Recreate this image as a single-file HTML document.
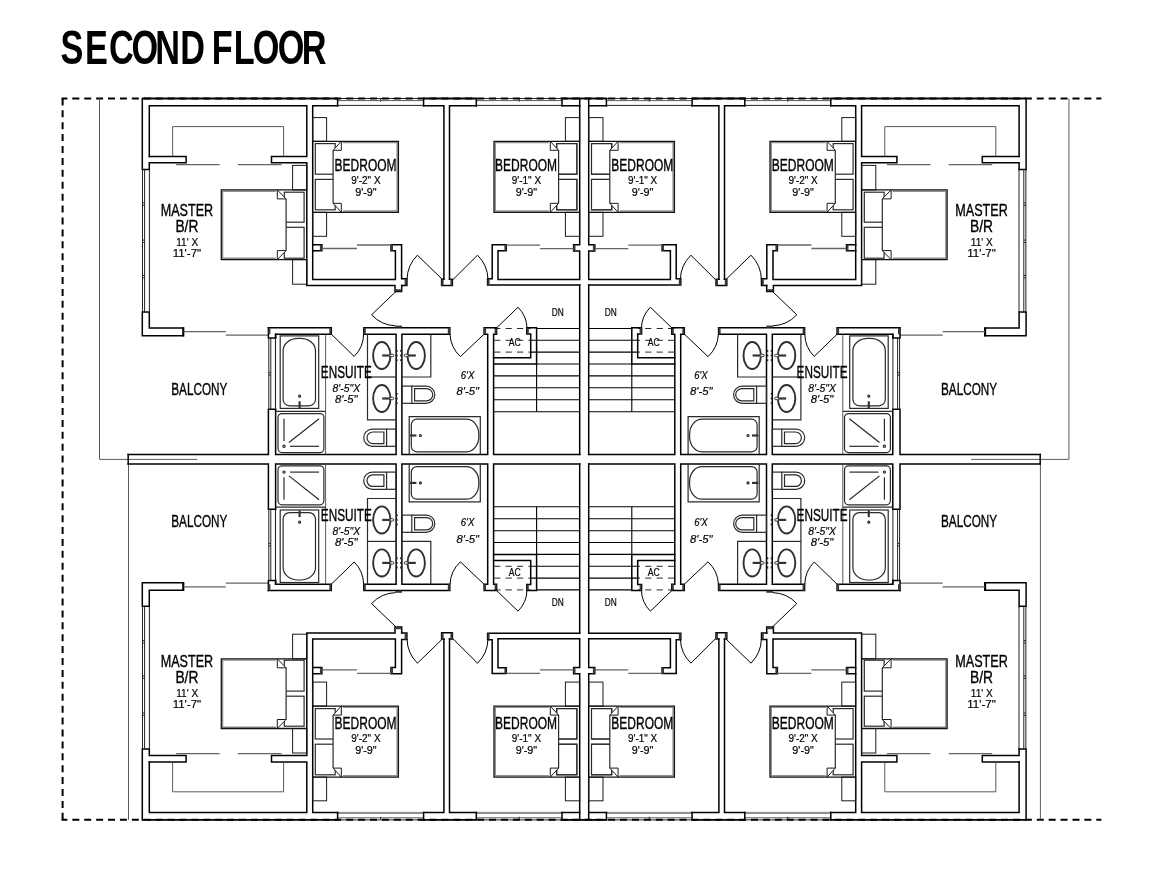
<!DOCTYPE html>
<html lang="en">
<head>
<meta charset="utf-8">
<title>Second Floor</title>
<style>
html,body{margin:0;padding:0;background:#fff;}
body{width:1159px;height:883px;overflow:hidden;}
svg{display:block;}
svg *{vector-effect:none;}
.w{fill:none;stroke:#000;stroke-width:1.5;stroke-linecap:square;stroke-linejoin:miter;}
.b{fill:none;stroke:#111;stroke-width:1.3;stroke-linejoin:miter;}
.bg{fill:none;stroke:#909090;stroke-width:1.4;stroke-linejoin:miter;}
.f{fill:none;stroke:#1a1a1a;stroke-width:1;}
.x{fill:none;stroke:#2a2a2a;stroke-width:1.2;}
.wo{fill:none;stroke:#000;stroke-width:1.9;}
.jb{fill:#888;stroke:#111;stroke-width:0.9;}
.jl{fill:none;stroke:#3a3a3a;stroke-width:2;}
.wh{fill:none;stroke:#fff;stroke-width:2.6;}
.cv{fill:#fff;stroke:none;}
.bw{fill:#fff;stroke:#222;stroke-width:1.6;stroke-linejoin:miter;}
.k{fill:none;stroke:#303030;stroke-width:1.9;}
.k2{fill:none;stroke:#333;stroke-width:2.2;}
.g{fill:none;stroke:#484848;stroke-width:0.9;}
.t{fill:none;stroke:#222;stroke-width:1;}
.s{fill:none;stroke:#666;stroke-width:1.3;}
.d{fill:none;stroke:#000;stroke-width:1;}
.pd{fill:none;stroke:#222;stroke-width:1.5;stroke-dasharray:1.9 2.75;}
.k1{fill:none;stroke:#333;stroke-width:0.95;}
.kf{fill:#fff;stroke:#222;stroke-width:0.9;}
.st{fill:none;stroke:#000;stroke-width:1.1;}
.da{fill:none;stroke:#111;stroke-width:0.9;stroke-dasharray:6.2 5.2;}
.dash{fill:none;stroke:#000;stroke-width:2;stroke-dasharray:7 4.907;}
text{font-family:"Liberation Sans",sans-serif;fill:#000;}
.ti{font-weight:bold;}
.lb{font-weight:normal;stroke:#000;stroke-width:0.35;}
.sm{font-weight:normal;stroke:#000;stroke-width:0.2;}
.si{font-style:italic;stroke:#000;stroke-width:0.2;}
</style>
</head>
<body>
<svg width="1159" height="883" viewBox="0 0 1159 883">
<rect x="0" y="0" width="1159" height="883" fill="#fff"/>
<defs>
<filter id="nf" x="0" y="0" width="1159" height="883" filterUnits="userSpaceOnUse" color-interpolation-filters="sRGB"><feOffset dx="0" dy="0"/></filter>
</defs>
<g>
<path class="wo" d="M142.3 98.5L337.6 98.5"/>
<path class="wo" d="M423.6 98.5L476.3 98.5"/>
<path class="wo" d="M562 98.5L584.2 98.5"/>
<path class="w" d="M142.3 98.5V169.4H149.3"/>
<path class="w" d="M149.3 156.4V105.8H306.8V156.4H271.5V162.8H306.8V285.4H395V291.4H401.7V285.4"/>
<path class="w" d="M149.3 156.4H186.1V162.8H149.3V328.1H183.6V335.7H142.3V312.1H149.3"/>
<path class="w" d="M183.0 328.1L183.0 335.7"/>
<path class="g" d="M172.6 156.4V126.6H283.6V156.4"/>
<path class="s" d="M176.2 164.7L219.7 164.7"/>
<path class="s" d="M237.9 164.7L281.5 164.7"/>
<path class="s" d="M183.6 331.6L225.8 331.6"/>
<path class="s" d="M225.8 335.2L268.4 335.2"/>
<rect class="f" x="292.6" y="165.4" width="14.2" height="24.5"/>
<rect class="f" x="292.6" y="259.6" width="14.2" height="24.6"/>
<rect class="x" x="284.3" y="192.2" width="19.8" height="30.0"/>
<rect class="x" x="284.3" y="227.3" width="19.8" height="30.9"/>
<path class="cv" d="M277.3 189.9H221.3V259.6H277.3L286.1 250.60000000000002V198.9Z"/>
<path class="bg" d="M275.8 191.20000000000002H222.6V258.3H275.8"/>
<path class="b" d="M306.8 189.9H221.3V259.6H306.8"/>
<path class="x" d="M286.1 198.9V250.60000000000002"/>
<path class="f" d="M277.3 189.9L286.1 198.9H277.3ZM277.3 259.6L286.1 250.60000000000002H277.3Z"/>
<path class="w" d="M443.9 279.3V105.8H312.7V244.7H321.9V250.8H312.7V279.5H395.4V250.8H391V244.7H401.6V278.8H406.9V285.4H401.7"/>
<path class="w" d="M312.7 244.7L312.7 250.8"/>
<path class="jl" d="M320.9 244.7L320.9 250.8"/>
<path class="jl" d="M392 244.7L392 250.8"/>
<path class="jl" d="M405.6 278.8L405.6 285.4"/>
<path class="jl" d="M395 290.2L401.7 290.2"/>
<path class="s" d="M322 248.5L357 248.5"/>
<path class="s" d="M357 245L391 245"/>
<rect class="f" x="312.7" y="117.6" width="13.9" height="23.7"/>
<rect class="f" x="312.7" y="212.3" width="13.9" height="24.0"/>
<rect class="x" x="315.3" y="143.6" width="19.9" height="30.6"/>
<rect class="x" x="315.3" y="179.4" width="19.9" height="30.4"/>
<path class="cv" d="M341.3 141.3H398.4V212.3H341.3L333.1 203.3V150.3Z"/>
<path class="bg" d="M342.8 142.60000000000002H397.1V211.0H342.8"/>
<path class="b" d="M312.7 141.3H398.4V212.3H312.7"/>
<path class="x" d="M333.1 150.3V203.3"/>
<path class="f" d="M341.3 141.3L333.1 150.3H341.3ZM341.3 212.3L333.1 203.3H341.3Z"/>
<path class="d" d="M442.6 279.6L417.4 255.2A35.6 35.6 0 0 0 407 279.3"/>
<path class="d" d="M396 291.4L371.6 314.8A34.4 34.4 0 0 0 395.6 325.8"/>
<path class="w" d="M443.9 279.3H441.6V285.6H452.4V279.3H449.5"/>
<path class="jl" d="M442.6 279.3L442.6 285.6"/>
<path class="jl" d="M451.4 279.3L451.4 285.6"/>
<path class="w" d="M449.5 279.3V105.8H579.7V244.7H573.6V250.9H579.7V279.6H498V250.7H506.3V244.8H492.2V278.7H487.6V285.1H579.7"/>
<path class="jl" d="M505.4 244.8L505.4 250.7"/>
<path class="jl" d="M574.5 244.7L574.5 250.9"/>
<path class="jl" d="M488.6 278.7L488.6 285.1"/>
<path class="s" d="M506.3 245.1L540.1 245.1"/>
<path class="s" d="M540.1 248.6L573.6 248.6"/>
<rect class="f" x="556.7" y="143.6" width="20.2" height="30.6"/>
<rect class="f" x="556.7" y="179.4" width="20.2" height="30.4"/>
<rect class="f" x="565.4" y="117.6" width="14.3" height="23.7"/>
<rect class="f" x="565.4" y="212.3" width="14.3" height="24.0"/>
<rect class="x" x="556.7" y="143.6" width="20.2" height="30.6"/>
<rect class="x" x="556.7" y="179.4" width="20.2" height="30.4"/>
<path class="cv" d="M550.3 141.3H494V212.3H550.3L558.6 203.3V150.3Z"/>
<path class="bg" d="M548.8 142.60000000000002H495.3V211.0H548.8"/>
<path class="b" d="M579.7 141.3H494V212.3H579.7"/>
<path class="x" d="M558.6 150.3V203.3"/>
<path class="f" d="M550.3 141.3L558.6 150.3H550.3ZM550.3 212.3L558.6 203.3H550.3Z"/>
<path class="d" d="M453 279.6L477.5 255.2A34.8 34.8 0 0 1 488 279.3"/>
<path class="w" d="M579.7 98.5L579.7 105.8"/>
<path class="w" d="M579.7 285.1L579.7 454.4"/>
<path class="w" d="M268.4 327.8H331.3V334.2H275.6V454.4H396.1V334.2H363.8V327.8H449.8V334.2H401.9V454.4H487.7V334.2H484.1V327.8H496.6V334.2H493.6V454.4H579.7"/>
<path class="w" d="M268.4 327.8V337.9H275.6V334.2M275.6 409.2H268.4V454.4H128.2"/>
<path class="jl" d="M269.4 327.8L269.4 334.2"/>
<path class="jl" d="M330.3 327.8L330.3 334.2"/>
<path class="jl" d="M364.8 327.8L364.8 334.2"/>
<path class="jl" d="M448.8 327.8L448.8 334.2"/>
<path class="jl" d="M485.1 327.8L485.1 334.2"/>
<path class="jl" d="M495.6 327.8L495.6 334.2"/>
<path class="jl" d="M395.4 326.6L402 326.6"/>
<rect class="x" x="280.2" y="335.9" width="38.5" height="72.5"/>
<path class="x" d="M283.1 350.8A15 12.4 0 0 1 298.1 338.4H300.5A15 12.4 0 0 1 315.5 350.8V399.3A6.5 6.5 0 0 1 309 405.8H289.6A6.5 6.5 0 0 1 283.1 399.3Z"/>
<ellipse class="x" cx="299.6" cy="396.2" rx="1" ry="1"/>
<path class="k2" d="M299.6 401.3L299.6 408"/>
<path class="g" d="M325.6 334.2L325.6 454.4"/>
<path class="x" d="M275.6 411.3L325.6 411.3"/>
<rect class="x" x="278" y="413.6" width="45.9" height="39.0" rx="4"/>
<path class="x" d="M284 418.7L284 441.1"/>
<ellipse class="x" cx="284" cy="446.3" rx="1.1" ry="1.1"/>
<path class="x" d="M288.9 442.5L319.1 418.7"/>
<path class="x" d="M290 446.3L319 446.3"/>
<path class="d" d="M331.3 334.2L354.2 356.4A31.9 31.9 0 0 0 363.6 334.2"/>
<path class="x" d="M396.1 419.9H367.5V334.2"/>
<path class="x" d="M367.5 377L396.1 377"/>
<ellipse class="k" cx="381.8" cy="355.5" rx="8.7" ry="13.55"/>
<path class="k2" d="M382.2 355.5L390.3 355.5"/>
<rect class="kf" x="389.8" y="354.3" width="4.0" height="2.4" rx="1.2"/>
<ellipse class="k" cx="381.8" cy="398.5" rx="8.7" ry="13.55"/>
<path class="k2" d="M382.2 398.5L390.3 398.5"/>
<rect class="kf" x="389.8" y="397.3" width="4.0" height="2.4" rx="1.2"/>
<path class="pd" d="M396.9 349.9L396.9 361.1"/>
<path class="pd" d="M400.9 349.9L400.9 361.1"/>
<path class="pd" d="M396.9 392.9L396.9 404.1"/>
<path class="x" d="M386.6 429.1H372.3A8.6 8.6 0 0 0 372.3 446.3H386.6"/>
<rect class="x" x="386.6" y="429.1" width="9.5" height="17.2"/>
<path class="x" d="M383.9 432H372.8A5.8 5.8 0 0 0 372.8 443.6H383.9Z"/>
<path class="x" d="M401.9 377H430.8V334.2"/>
<ellipse class="k" cx="416.2" cy="355.5" rx="8.7" ry="13.55"/>
<path class="k2" d="M415.8 355.5L407.7 355.5"/>
<rect class="kf" x="404.2" y="354.3" width="4.0" height="2.4" rx="1.2"/>
<rect class="x" x="401.9" y="386.1" width="9.9" height="17.2"/>
<path class="x" d="M411.8 386.1H426.2A8.6 8.6 0 0 1 426.2 403.3H411.8"/>
<path class="x" d="M414.6 388.6H426.6A6.1 6.1 0 0 1 426.6 400.8H414.6Z"/>
<path class="x" d="M409.2 454.4V416.6H480.3V454.4"/>
<path class="x" d="M416.8 419.2H466.4A12.4 15 0 0 1 478.8 434.2V436.8A12.4 15 0 0 1 466.4 451.8H416.8A5.5 5.5 0 0 1 411.3 446.3V424.7A5.5 5.5 0 0 1 416.8 419.2Z"/>
<ellipse class="x" cx="420.4" cy="435.5" rx="1" ry="1"/>
<path class="k2" d="M410 435.5L416.4 435.5"/>
<path class="d" d="M484 334.2L460.4 356.6A32.6 32.6 0 0 1 450 334.2"/>
<path class="d" d="M496.3 328.2L518 307.2A30.6 30.6 0 0 1 527 328.2"/>
<path class="w" d="M493.6 357.8H530.7V334H526.8V327.8H536.6V364H493.6"/>
<path class="jl" d="M527.8 327.8L527.8 334"/>
<path class="da" d="M494.2 328.5L530.6 328.5"/>
<path class="da" d="M494.2 340.3L530.6 340.3"/>
<path class="da" d="M494.2 352.1L530.6 352.1"/>
<path class="st" d="M536.6 328.5L579.7 328.5"/>
<path class="st" d="M530.7 340.3L579.7 340.3"/>
<path class="st" d="M530.7 352.1L579.7 352.1"/>
<path class="st" d="M493.6 375.9L579.7 375.9"/>
<path class="st" d="M493.6 387.7L579.7 387.7"/>
<path class="st" d="M493.6 399.7L579.7 399.7"/>
<path class="st" d="M493.6 411.7L579.7 411.7"/>
<path class="st" d="M536.6 364L579.7 364"/>
<path class="st" d="M536.6 364L536.6 411.7"/>
<path class="wh" d="M338.40000000000003 105.8L422.8 105.8"/>
<path class="t" d="M337.6 105.4L423.6 105.4"/>
<path class="t" d="M337.6 98.5L423.6 98.5"/>
<path class="g" d="M337.6 100.6L423.6 100.6"/>
<path class="w" d="M337.6 98.5L337.6 105.8"/>
<path class="w" d="M423.6 98.5L423.6 105.8"/>
<path class="t" d="M380.6 99L380.6 101.6"/>
<path class="wh" d="M477.1 105.8L561.2 105.8"/>
<path class="t" d="M476.3 105.4L562 105.4"/>
<path class="t" d="M476.3 98.5L562 98.5"/>
<path class="g" d="M476.3 100.6L562 100.6"/>
<path class="w" d="M476.3 98.5L476.3 105.8"/>
<path class="w" d="M562 98.5L562 105.8"/>
<path class="t" d="M519.15 99L519.15 101.6"/>
<path class="wh" d="M149.3 170.3L149.3 311.2"/>
<path class="t" d="M149.4 169.4L149.4 312.1"/>
<path class="t" d="M142.5 169.4L142.5 312.1"/>
<path class="t" d="M144.6 169.4L144.6 312.1"/>
<path class="t" d="M142.5 203.0L144.6 203.0"/>
<path class="t" d="M142.5 205.39999999999998L144.6 205.39999999999998"/>
<path class="t" d="M142.5 240.10000000000002L144.6 240.10000000000002"/>
<path class="t" d="M142.5 242.5L144.6 242.5"/>
<path class="t" d="M142.5 275.40000000000003L144.6 275.40000000000003"/>
<path class="t" d="M142.5 277.8L144.6 277.8"/>
<path class="wh" d="M275.6 339L275.6 408.4"/>
<path class="t" d="M275.5 337.9L275.5 409.2"/>
<path class="t" d="M268.8 337.9L268.8 409.2"/>
<path class="t" d="M270.8 337.9L270.8 409.2"/>
<path class="t" d="M268.5 372.6L270.5 372.6"/>
<path class="t" d="M268.5 375L270.5 375"/>
</g>
<g transform="translate(1168.4,0) scale(-1,1)">
<path class="wo" d="M142.3 98.5L337.6 98.5"/>
<path class="wo" d="M423.6 98.5L476.3 98.5"/>
<path class="wo" d="M562 98.5L584.2 98.5"/>
<path class="w" d="M142.3 98.5V169.4H149.3"/>
<path class="w" d="M149.3 156.4V105.8H306.8V156.4H271.5V162.8H306.8V285.4H395V291.4H401.7V285.4"/>
<path class="w" d="M149.3 156.4H186.1V162.8H149.3V328.1H183.6V335.7H142.3V312.1H149.3"/>
<path class="w" d="M183.0 328.1L183.0 335.7"/>
<path class="g" d="M172.6 156.4V126.6H283.6V156.4"/>
<path class="s" d="M176.2 164.7L219.7 164.7"/>
<path class="s" d="M237.9 164.7L281.5 164.7"/>
<path class="s" d="M183.6 331.6L225.8 331.6"/>
<path class="s" d="M225.8 335.2L268.4 335.2"/>
<rect class="f" x="292.6" y="165.4" width="14.2" height="24.5"/>
<rect class="f" x="292.6" y="259.6" width="14.2" height="24.6"/>
<rect class="x" x="284.3" y="192.2" width="19.8" height="30.0"/>
<rect class="x" x="284.3" y="227.3" width="19.8" height="30.9"/>
<path class="cv" d="M277.3 189.9H221.3V259.6H277.3L286.1 250.60000000000002V198.9Z"/>
<path class="bg" d="M275.8 191.20000000000002H222.6V258.3H275.8"/>
<path class="b" d="M306.8 189.9H221.3V259.6H306.8"/>
<path class="x" d="M286.1 198.9V250.60000000000002"/>
<path class="f" d="M277.3 189.9L286.1 198.9H277.3ZM277.3 259.6L286.1 250.60000000000002H277.3Z"/>
<path class="w" d="M443.9 279.3V105.8H312.7V244.7H321.9V250.8H312.7V279.5H395.4V250.8H391V244.7H401.6V278.8H406.9V285.4H401.7"/>
<path class="w" d="M312.7 244.7L312.7 250.8"/>
<path class="jl" d="M320.9 244.7L320.9 250.8"/>
<path class="jl" d="M392 244.7L392 250.8"/>
<path class="jl" d="M405.6 278.8L405.6 285.4"/>
<path class="jl" d="M395 290.2L401.7 290.2"/>
<path class="s" d="M322 248.5L357 248.5"/>
<path class="s" d="M357 245L391 245"/>
<rect class="f" x="312.7" y="117.6" width="13.9" height="23.7"/>
<rect class="f" x="312.7" y="212.3" width="13.9" height="24.0"/>
<rect class="x" x="315.3" y="143.6" width="19.9" height="30.6"/>
<rect class="x" x="315.3" y="179.4" width="19.9" height="30.4"/>
<path class="cv" d="M341.3 141.3H398.4V212.3H341.3L333.1 203.3V150.3Z"/>
<path class="bg" d="M342.8 142.60000000000002H397.1V211.0H342.8"/>
<path class="b" d="M312.7 141.3H398.4V212.3H312.7"/>
<path class="x" d="M333.1 150.3V203.3"/>
<path class="f" d="M341.3 141.3L333.1 150.3H341.3ZM341.3 212.3L333.1 203.3H341.3Z"/>
<path class="d" d="M442.6 279.6L417.4 255.2A35.6 35.6 0 0 0 407 279.3"/>
<path class="d" d="M396 291.4L371.6 314.8A34.4 34.4 0 0 0 395.6 325.8"/>
<path class="w" d="M443.9 279.3H441.6V285.6H452.4V279.3H449.5"/>
<path class="jl" d="M442.6 279.3L442.6 285.6"/>
<path class="jl" d="M451.4 279.3L451.4 285.6"/>
<path class="w" d="M449.5 279.3V105.8H579.7V244.7H573.6V250.9H579.7V279.6H498V250.7H506.3V244.8H492.2V278.7H487.6V285.1H579.7"/>
<path class="jl" d="M505.4 244.8L505.4 250.7"/>
<path class="jl" d="M574.5 244.7L574.5 250.9"/>
<path class="jl" d="M488.6 278.7L488.6 285.1"/>
<path class="s" d="M506.3 245.1L540.1 245.1"/>
<path class="s" d="M540.1 248.6L573.6 248.6"/>
<rect class="f" x="556.7" y="143.6" width="20.2" height="30.6"/>
<rect class="f" x="556.7" y="179.4" width="20.2" height="30.4"/>
<rect class="f" x="565.4" y="117.6" width="14.3" height="23.7"/>
<rect class="f" x="565.4" y="212.3" width="14.3" height="24.0"/>
<rect class="x" x="556.7" y="143.6" width="20.2" height="30.6"/>
<rect class="x" x="556.7" y="179.4" width="20.2" height="30.4"/>
<path class="cv" d="M550.3 141.3H494V212.3H550.3L558.6 203.3V150.3Z"/>
<path class="bg" d="M548.8 142.60000000000002H495.3V211.0H548.8"/>
<path class="b" d="M579.7 141.3H494V212.3H579.7"/>
<path class="x" d="M558.6 150.3V203.3"/>
<path class="f" d="M550.3 141.3L558.6 150.3H550.3ZM550.3 212.3L558.6 203.3H550.3Z"/>
<path class="d" d="M453 279.6L477.5 255.2A34.8 34.8 0 0 1 488 279.3"/>
<path class="w" d="M579.7 98.5L579.7 105.8"/>
<path class="w" d="M579.7 285.1L579.7 454.4"/>
<path class="w" d="M268.4 327.8H331.3V334.2H275.6V454.4H396.1V334.2H363.8V327.8H449.8V334.2H401.9V454.4H487.7V334.2H484.1V327.8H496.6V334.2H493.6V454.4H579.7"/>
<path class="w" d="M268.4 327.8V337.9H275.6V334.2M275.6 409.2H268.4V454.4H128.2"/>
<path class="jl" d="M269.4 327.8L269.4 334.2"/>
<path class="jl" d="M330.3 327.8L330.3 334.2"/>
<path class="jl" d="M364.8 327.8L364.8 334.2"/>
<path class="jl" d="M448.8 327.8L448.8 334.2"/>
<path class="jl" d="M485.1 327.8L485.1 334.2"/>
<path class="jl" d="M495.6 327.8L495.6 334.2"/>
<path class="jl" d="M395.4 326.6L402 326.6"/>
<rect class="x" x="280.2" y="335.9" width="38.5" height="72.5"/>
<path class="x" d="M283.1 350.8A15 12.4 0 0 1 298.1 338.4H300.5A15 12.4 0 0 1 315.5 350.8V399.3A6.5 6.5 0 0 1 309 405.8H289.6A6.5 6.5 0 0 1 283.1 399.3Z"/>
<ellipse class="x" cx="299.6" cy="396.2" rx="1" ry="1"/>
<path class="k2" d="M299.6 401.3L299.6 408"/>
<path class="g" d="M325.6 334.2L325.6 454.4"/>
<path class="x" d="M275.6 411.3L325.6 411.3"/>
<rect class="x" x="278" y="413.6" width="45.9" height="39.0" rx="4"/>
<path class="x" d="M284 418.7L284 441.1"/>
<ellipse class="x" cx="284" cy="446.3" rx="1.1" ry="1.1"/>
<path class="x" d="M288.9 442.5L319.1 418.7"/>
<path class="x" d="M290 446.3L319 446.3"/>
<path class="d" d="M331.3 334.2L354.2 356.4A31.9 31.9 0 0 0 363.6 334.2"/>
<path class="x" d="M396.1 419.9H367.5V334.2"/>
<path class="x" d="M367.5 377L396.1 377"/>
<ellipse class="k" cx="381.8" cy="355.5" rx="8.7" ry="13.55"/>
<path class="k2" d="M382.2 355.5L390.3 355.5"/>
<rect class="kf" x="389.8" y="354.3" width="4.0" height="2.4" rx="1.2"/>
<ellipse class="k" cx="381.8" cy="398.5" rx="8.7" ry="13.55"/>
<path class="k2" d="M382.2 398.5L390.3 398.5"/>
<rect class="kf" x="389.8" y="397.3" width="4.0" height="2.4" rx="1.2"/>
<path class="pd" d="M396.9 349.9L396.9 361.1"/>
<path class="pd" d="M400.9 349.9L400.9 361.1"/>
<path class="pd" d="M396.9 392.9L396.9 404.1"/>
<path class="x" d="M386.6 429.1H372.3A8.6 8.6 0 0 0 372.3 446.3H386.6"/>
<rect class="x" x="386.6" y="429.1" width="9.5" height="17.2"/>
<path class="x" d="M383.9 432H372.8A5.8 5.8 0 0 0 372.8 443.6H383.9Z"/>
<path class="x" d="M401.9 377H430.8V334.2"/>
<ellipse class="k" cx="416.2" cy="355.5" rx="8.7" ry="13.55"/>
<path class="k2" d="M415.8 355.5L407.7 355.5"/>
<rect class="kf" x="404.2" y="354.3" width="4.0" height="2.4" rx="1.2"/>
<rect class="x" x="401.9" y="386.1" width="9.9" height="17.2"/>
<path class="x" d="M411.8 386.1H426.2A8.6 8.6 0 0 1 426.2 403.3H411.8"/>
<path class="x" d="M414.6 388.6H426.6A6.1 6.1 0 0 1 426.6 400.8H414.6Z"/>
<path class="x" d="M409.2 454.4V416.6H480.3V454.4"/>
<path class="x" d="M416.8 419.2H466.4A12.4 15 0 0 1 478.8 434.2V436.8A12.4 15 0 0 1 466.4 451.8H416.8A5.5 5.5 0 0 1 411.3 446.3V424.7A5.5 5.5 0 0 1 416.8 419.2Z"/>
<ellipse class="x" cx="420.4" cy="435.5" rx="1" ry="1"/>
<path class="k2" d="M410 435.5L416.4 435.5"/>
<path class="d" d="M484 334.2L460.4 356.6A32.6 32.6 0 0 1 450 334.2"/>
<path class="d" d="M496.3 328.2L518 307.2A30.6 30.6 0 0 1 527 328.2"/>
<path class="w" d="M493.6 357.8H530.7V334H526.8V327.8H536.6V364H493.6"/>
<path class="jl" d="M527.8 327.8L527.8 334"/>
<path class="da" d="M494.2 328.5L530.6 328.5"/>
<path class="da" d="M494.2 340.3L530.6 340.3"/>
<path class="da" d="M494.2 352.1L530.6 352.1"/>
<path class="st" d="M536.6 328.5L579.7 328.5"/>
<path class="st" d="M530.7 340.3L579.7 340.3"/>
<path class="st" d="M530.7 352.1L579.7 352.1"/>
<path class="st" d="M493.6 375.9L579.7 375.9"/>
<path class="st" d="M493.6 387.7L579.7 387.7"/>
<path class="st" d="M493.6 399.7L579.7 399.7"/>
<path class="st" d="M493.6 411.7L579.7 411.7"/>
<path class="st" d="M536.6 364L579.7 364"/>
<path class="st" d="M536.6 364L536.6 411.7"/>
<path class="wh" d="M338.40000000000003 105.8L422.8 105.8"/>
<path class="t" d="M337.6 105.4L423.6 105.4"/>
<path class="t" d="M337.6 98.5L423.6 98.5"/>
<path class="g" d="M337.6 100.6L423.6 100.6"/>
<path class="w" d="M337.6 98.5L337.6 105.8"/>
<path class="w" d="M423.6 98.5L423.6 105.8"/>
<path class="t" d="M380.6 99L380.6 101.6"/>
<path class="wh" d="M477.1 105.8L561.2 105.8"/>
<path class="t" d="M476.3 105.4L562 105.4"/>
<path class="t" d="M476.3 98.5L562 98.5"/>
<path class="g" d="M476.3 100.6L562 100.6"/>
<path class="w" d="M476.3 98.5L476.3 105.8"/>
<path class="w" d="M562 98.5L562 105.8"/>
<path class="t" d="M519.15 99L519.15 101.6"/>
<path class="wh" d="M149.3 170.3L149.3 311.2"/>
<path class="t" d="M149.4 169.4L149.4 312.1"/>
<path class="t" d="M142.5 169.4L142.5 312.1"/>
<path class="t" d="M144.6 169.4L144.6 312.1"/>
<path class="t" d="M142.5 203.0L144.6 203.0"/>
<path class="t" d="M142.5 205.39999999999998L144.6 205.39999999999998"/>
<path class="t" d="M142.5 240.10000000000002L144.6 240.10000000000002"/>
<path class="t" d="M142.5 242.5L144.6 242.5"/>
<path class="t" d="M142.5 275.40000000000003L144.6 275.40000000000003"/>
<path class="t" d="M142.5 277.8L144.6 277.8"/>
<path class="wh" d="M275.6 339L275.6 408.4"/>
<path class="t" d="M275.5 337.9L275.5 409.2"/>
<path class="t" d="M268.8 337.9L268.8 409.2"/>
<path class="t" d="M270.8 337.9L270.8 409.2"/>
<path class="t" d="M268.5 372.6L270.5 372.6"/>
<path class="t" d="M268.5 375L270.5 375"/>
</g>
<g transform="translate(0,918.4) scale(1,-1)">
<path class="wo" d="M142.3 98.5L337.6 98.5"/>
<path class="wo" d="M423.6 98.5L476.3 98.5"/>
<path class="wo" d="M562 98.5L584.2 98.5"/>
<path class="w" d="M142.3 98.5V169.4H149.3"/>
<path class="w" d="M149.3 156.4V105.8H306.8V156.4H271.5V162.8H306.8V285.4H395V291.4H401.7V285.4"/>
<path class="w" d="M149.3 156.4H186.1V162.8H149.3V328.1H183.6V335.7H142.3V312.1H149.3"/>
<path class="w" d="M183.0 328.1L183.0 335.7"/>
<path class="g" d="M172.6 156.4V126.6H283.6V156.4"/>
<path class="s" d="M176.2 164.7L219.7 164.7"/>
<path class="s" d="M237.9 164.7L281.5 164.7"/>
<path class="s" d="M183.6 331.6L225.8 331.6"/>
<path class="s" d="M225.8 335.2L268.4 335.2"/>
<rect class="f" x="292.6" y="165.4" width="14.2" height="24.5"/>
<rect class="f" x="292.6" y="259.6" width="14.2" height="24.6"/>
<rect class="x" x="284.3" y="192.2" width="19.8" height="30.0"/>
<rect class="x" x="284.3" y="227.3" width="19.8" height="30.9"/>
<path class="cv" d="M277.3 189.9H221.3V259.6H277.3L286.1 250.60000000000002V198.9Z"/>
<path class="bg" d="M275.8 191.20000000000002H222.6V258.3H275.8"/>
<path class="b" d="M306.8 189.9H221.3V259.6H306.8"/>
<path class="x" d="M286.1 198.9V250.60000000000002"/>
<path class="f" d="M277.3 189.9L286.1 198.9H277.3ZM277.3 259.6L286.1 250.60000000000002H277.3Z"/>
<path class="w" d="M443.9 279.3V105.8H312.7V244.7H321.9V250.8H312.7V279.5H395.4V250.8H391V244.7H401.6V278.8H406.9V285.4H401.7"/>
<path class="w" d="M312.7 244.7L312.7 250.8"/>
<path class="jl" d="M320.9 244.7L320.9 250.8"/>
<path class="jl" d="M392 244.7L392 250.8"/>
<path class="jl" d="M405.6 278.8L405.6 285.4"/>
<path class="jl" d="M395 290.2L401.7 290.2"/>
<path class="s" d="M322 248.5L357 248.5"/>
<path class="s" d="M357 245L391 245"/>
<rect class="f" x="312.7" y="117.6" width="13.9" height="23.7"/>
<rect class="f" x="312.7" y="212.3" width="13.9" height="24.0"/>
<rect class="x" x="315.3" y="143.6" width="19.9" height="30.6"/>
<rect class="x" x="315.3" y="179.4" width="19.9" height="30.4"/>
<path class="cv" d="M341.3 141.3H398.4V212.3H341.3L333.1 203.3V150.3Z"/>
<path class="bg" d="M342.8 142.60000000000002H397.1V211.0H342.8"/>
<path class="b" d="M312.7 141.3H398.4V212.3H312.7"/>
<path class="x" d="M333.1 150.3V203.3"/>
<path class="f" d="M341.3 141.3L333.1 150.3H341.3ZM341.3 212.3L333.1 203.3H341.3Z"/>
<path class="d" d="M442.6 279.6L417.4 255.2A35.6 35.6 0 0 0 407 279.3"/>
<path class="d" d="M396 291.4L371.6 314.8A34.4 34.4 0 0 0 395.6 325.8"/>
<path class="w" d="M443.9 279.3H441.6V285.6H452.4V279.3H449.5"/>
<path class="jl" d="M442.6 279.3L442.6 285.6"/>
<path class="jl" d="M451.4 279.3L451.4 285.6"/>
<path class="w" d="M449.5 279.3V105.8H579.7V244.7H573.6V250.9H579.7V279.6H498V250.7H506.3V244.8H492.2V278.7H487.6V285.1H579.7"/>
<path class="jl" d="M505.4 244.8L505.4 250.7"/>
<path class="jl" d="M574.5 244.7L574.5 250.9"/>
<path class="jl" d="M488.6 278.7L488.6 285.1"/>
<path class="s" d="M506.3 245.1L540.1 245.1"/>
<path class="s" d="M540.1 248.6L573.6 248.6"/>
<rect class="f" x="556.7" y="143.6" width="20.2" height="30.6"/>
<rect class="f" x="556.7" y="179.4" width="20.2" height="30.4"/>
<rect class="f" x="565.4" y="117.6" width="14.3" height="23.7"/>
<rect class="f" x="565.4" y="212.3" width="14.3" height="24.0"/>
<rect class="x" x="556.7" y="143.6" width="20.2" height="30.6"/>
<rect class="x" x="556.7" y="179.4" width="20.2" height="30.4"/>
<path class="cv" d="M550.3 141.3H494V212.3H550.3L558.6 203.3V150.3Z"/>
<path class="bg" d="M548.8 142.60000000000002H495.3V211.0H548.8"/>
<path class="b" d="M579.7 141.3H494V212.3H579.7"/>
<path class="x" d="M558.6 150.3V203.3"/>
<path class="f" d="M550.3 141.3L558.6 150.3H550.3ZM550.3 212.3L558.6 203.3H550.3Z"/>
<path class="d" d="M453 279.6L477.5 255.2A34.8 34.8 0 0 1 488 279.3"/>
<path class="w" d="M579.7 98.5L579.7 105.8"/>
<path class="w" d="M579.7 285.1L579.7 454.4"/>
<path class="w" d="M268.4 327.8H331.3V334.2H275.6V454.4H396.1V334.2H363.8V327.8H449.8V334.2H401.9V454.4H487.7V334.2H484.1V327.8H496.6V334.2H493.6V454.4H579.7"/>
<path class="w" d="M268.4 327.8V337.9H275.6V334.2M275.6 409.2H268.4V454.4H128.2"/>
<path class="jl" d="M269.4 327.8L269.4 334.2"/>
<path class="jl" d="M330.3 327.8L330.3 334.2"/>
<path class="jl" d="M364.8 327.8L364.8 334.2"/>
<path class="jl" d="M448.8 327.8L448.8 334.2"/>
<path class="jl" d="M485.1 327.8L485.1 334.2"/>
<path class="jl" d="M495.6 327.8L495.6 334.2"/>
<path class="jl" d="M395.4 326.6L402 326.6"/>
<rect class="x" x="280.2" y="335.9" width="38.5" height="72.5"/>
<path class="x" d="M283.1 350.8A15 12.4 0 0 1 298.1 338.4H300.5A15 12.4 0 0 1 315.5 350.8V399.3A6.5 6.5 0 0 1 309 405.8H289.6A6.5 6.5 0 0 1 283.1 399.3Z"/>
<ellipse class="x" cx="299.6" cy="396.2" rx="1" ry="1"/>
<path class="k2" d="M299.6 401.3L299.6 408"/>
<path class="g" d="M325.6 334.2L325.6 454.4"/>
<path class="x" d="M275.6 411.3L325.6 411.3"/>
<rect class="x" x="278" y="413.6" width="45.9" height="39.0" rx="4"/>
<path class="x" d="M284 418.7L284 441.1"/>
<ellipse class="x" cx="284" cy="446.3" rx="1.1" ry="1.1"/>
<path class="x" d="M288.9 442.5L319.1 418.7"/>
<path class="x" d="M290 446.3L319 446.3"/>
<path class="d" d="M331.3 334.2L354.2 356.4A31.9 31.9 0 0 0 363.6 334.2"/>
<path class="x" d="M396.1 419.9H367.5V334.2"/>
<path class="x" d="M367.5 377L396.1 377"/>
<ellipse class="k" cx="381.8" cy="355.5" rx="8.7" ry="13.55"/>
<path class="k2" d="M382.2 355.5L390.3 355.5"/>
<rect class="kf" x="389.8" y="354.3" width="4.0" height="2.4" rx="1.2"/>
<ellipse class="k" cx="381.8" cy="398.5" rx="8.7" ry="13.55"/>
<path class="k2" d="M382.2 398.5L390.3 398.5"/>
<rect class="kf" x="389.8" y="397.3" width="4.0" height="2.4" rx="1.2"/>
<path class="pd" d="M396.9 349.9L396.9 361.1"/>
<path class="pd" d="M400.9 349.9L400.9 361.1"/>
<path class="pd" d="M396.9 392.9L396.9 404.1"/>
<path class="x" d="M386.6 429.1H372.3A8.6 8.6 0 0 0 372.3 446.3H386.6"/>
<rect class="x" x="386.6" y="429.1" width="9.5" height="17.2"/>
<path class="x" d="M383.9 432H372.8A5.8 5.8 0 0 0 372.8 443.6H383.9Z"/>
<path class="x" d="M401.9 377H430.8V334.2"/>
<ellipse class="k" cx="416.2" cy="355.5" rx="8.7" ry="13.55"/>
<path class="k2" d="M415.8 355.5L407.7 355.5"/>
<rect class="kf" x="404.2" y="354.3" width="4.0" height="2.4" rx="1.2"/>
<rect class="x" x="401.9" y="386.1" width="9.9" height="17.2"/>
<path class="x" d="M411.8 386.1H426.2A8.6 8.6 0 0 1 426.2 403.3H411.8"/>
<path class="x" d="M414.6 388.6H426.6A6.1 6.1 0 0 1 426.6 400.8H414.6Z"/>
<path class="x" d="M409.2 454.4V416.6H480.3V454.4"/>
<path class="x" d="M416.8 419.2H466.4A12.4 15 0 0 1 478.8 434.2V436.8A12.4 15 0 0 1 466.4 451.8H416.8A5.5 5.5 0 0 1 411.3 446.3V424.7A5.5 5.5 0 0 1 416.8 419.2Z"/>
<ellipse class="x" cx="420.4" cy="435.5" rx="1" ry="1"/>
<path class="k2" d="M410 435.5L416.4 435.5"/>
<path class="d" d="M484 334.2L460.4 356.6A32.6 32.6 0 0 1 450 334.2"/>
<path class="d" d="M496.3 328.2L518 307.2A30.6 30.6 0 0 1 527 328.2"/>
<path class="w" d="M493.6 357.8H530.7V334H526.8V327.8H536.6V364H493.6"/>
<path class="jl" d="M527.8 327.8L527.8 334"/>
<path class="da" d="M494.2 328.5L530.6 328.5"/>
<path class="da" d="M494.2 340.3L530.6 340.3"/>
<path class="da" d="M494.2 352.1L530.6 352.1"/>
<path class="st" d="M536.6 328.5L579.7 328.5"/>
<path class="st" d="M530.7 340.3L579.7 340.3"/>
<path class="st" d="M530.7 352.1L579.7 352.1"/>
<path class="st" d="M493.6 375.9L579.7 375.9"/>
<path class="st" d="M493.6 387.7L579.7 387.7"/>
<path class="st" d="M493.6 399.7L579.7 399.7"/>
<path class="st" d="M493.6 411.7L579.7 411.7"/>
<path class="st" d="M536.6 364L579.7 364"/>
<path class="st" d="M536.6 364L536.6 411.7"/>
<path class="wh" d="M338.40000000000003 105.8L422.8 105.8"/>
<path class="t" d="M337.6 105.4L423.6 105.4"/>
<path class="t" d="M337.6 98.5L423.6 98.5"/>
<path class="g" d="M337.6 100.6L423.6 100.6"/>
<path class="w" d="M337.6 98.5L337.6 105.8"/>
<path class="w" d="M423.6 98.5L423.6 105.8"/>
<path class="t" d="M380.6 99L380.6 101.6"/>
<path class="wh" d="M477.1 105.8L561.2 105.8"/>
<path class="t" d="M476.3 105.4L562 105.4"/>
<path class="t" d="M476.3 98.5L562 98.5"/>
<path class="g" d="M476.3 100.6L562 100.6"/>
<path class="w" d="M476.3 98.5L476.3 105.8"/>
<path class="w" d="M562 98.5L562 105.8"/>
<path class="t" d="M519.15 99L519.15 101.6"/>
<path class="wh" d="M149.3 170.3L149.3 311.2"/>
<path class="t" d="M149.4 169.4L149.4 312.1"/>
<path class="t" d="M142.5 169.4L142.5 312.1"/>
<path class="t" d="M144.6 169.4L144.6 312.1"/>
<path class="t" d="M142.5 203.0L144.6 203.0"/>
<path class="t" d="M142.5 205.39999999999998L144.6 205.39999999999998"/>
<path class="t" d="M142.5 240.10000000000002L144.6 240.10000000000002"/>
<path class="t" d="M142.5 242.5L144.6 242.5"/>
<path class="t" d="M142.5 275.40000000000003L144.6 275.40000000000003"/>
<path class="t" d="M142.5 277.8L144.6 277.8"/>
<path class="wh" d="M275.6 339L275.6 408.4"/>
<path class="t" d="M275.5 337.9L275.5 409.2"/>
<path class="t" d="M268.8 337.9L268.8 409.2"/>
<path class="t" d="M270.8 337.9L270.8 409.2"/>
<path class="t" d="M268.5 372.6L270.5 372.6"/>
<path class="t" d="M268.5 375L270.5 375"/>
</g>
<g transform="translate(1168.4,918.4) scale(-1,-1)">
<path class="wo" d="M142.3 98.5L337.6 98.5"/>
<path class="wo" d="M423.6 98.5L476.3 98.5"/>
<path class="wo" d="M562 98.5L584.2 98.5"/>
<path class="w" d="M142.3 98.5V169.4H149.3"/>
<path class="w" d="M149.3 156.4V105.8H306.8V156.4H271.5V162.8H306.8V285.4H395V291.4H401.7V285.4"/>
<path class="w" d="M149.3 156.4H186.1V162.8H149.3V328.1H183.6V335.7H142.3V312.1H149.3"/>
<path class="w" d="M183.0 328.1L183.0 335.7"/>
<path class="g" d="M172.6 156.4V126.6H283.6V156.4"/>
<path class="s" d="M176.2 164.7L219.7 164.7"/>
<path class="s" d="M237.9 164.7L281.5 164.7"/>
<path class="s" d="M183.6 331.6L225.8 331.6"/>
<path class="s" d="M225.8 335.2L268.4 335.2"/>
<rect class="f" x="292.6" y="165.4" width="14.2" height="24.5"/>
<rect class="f" x="292.6" y="259.6" width="14.2" height="24.6"/>
<rect class="x" x="284.3" y="192.2" width="19.8" height="30.0"/>
<rect class="x" x="284.3" y="227.3" width="19.8" height="30.9"/>
<path class="cv" d="M277.3 189.9H221.3V259.6H277.3L286.1 250.60000000000002V198.9Z"/>
<path class="bg" d="M275.8 191.20000000000002H222.6V258.3H275.8"/>
<path class="b" d="M306.8 189.9H221.3V259.6H306.8"/>
<path class="x" d="M286.1 198.9V250.60000000000002"/>
<path class="f" d="M277.3 189.9L286.1 198.9H277.3ZM277.3 259.6L286.1 250.60000000000002H277.3Z"/>
<path class="w" d="M443.9 279.3V105.8H312.7V244.7H321.9V250.8H312.7V279.5H395.4V250.8H391V244.7H401.6V278.8H406.9V285.4H401.7"/>
<path class="w" d="M312.7 244.7L312.7 250.8"/>
<path class="jl" d="M320.9 244.7L320.9 250.8"/>
<path class="jl" d="M392 244.7L392 250.8"/>
<path class="jl" d="M405.6 278.8L405.6 285.4"/>
<path class="jl" d="M395 290.2L401.7 290.2"/>
<path class="s" d="M322 248.5L357 248.5"/>
<path class="s" d="M357 245L391 245"/>
<rect class="f" x="312.7" y="117.6" width="13.9" height="23.7"/>
<rect class="f" x="312.7" y="212.3" width="13.9" height="24.0"/>
<rect class="x" x="315.3" y="143.6" width="19.9" height="30.6"/>
<rect class="x" x="315.3" y="179.4" width="19.9" height="30.4"/>
<path class="cv" d="M341.3 141.3H398.4V212.3H341.3L333.1 203.3V150.3Z"/>
<path class="bg" d="M342.8 142.60000000000002H397.1V211.0H342.8"/>
<path class="b" d="M312.7 141.3H398.4V212.3H312.7"/>
<path class="x" d="M333.1 150.3V203.3"/>
<path class="f" d="M341.3 141.3L333.1 150.3H341.3ZM341.3 212.3L333.1 203.3H341.3Z"/>
<path class="d" d="M442.6 279.6L417.4 255.2A35.6 35.6 0 0 0 407 279.3"/>
<path class="d" d="M396 291.4L371.6 314.8A34.4 34.4 0 0 0 395.6 325.8"/>
<path class="w" d="M443.9 279.3H441.6V285.6H452.4V279.3H449.5"/>
<path class="jl" d="M442.6 279.3L442.6 285.6"/>
<path class="jl" d="M451.4 279.3L451.4 285.6"/>
<path class="w" d="M449.5 279.3V105.8H579.7V244.7H573.6V250.9H579.7V279.6H498V250.7H506.3V244.8H492.2V278.7H487.6V285.1H579.7"/>
<path class="jl" d="M505.4 244.8L505.4 250.7"/>
<path class="jl" d="M574.5 244.7L574.5 250.9"/>
<path class="jl" d="M488.6 278.7L488.6 285.1"/>
<path class="s" d="M506.3 245.1L540.1 245.1"/>
<path class="s" d="M540.1 248.6L573.6 248.6"/>
<rect class="f" x="556.7" y="143.6" width="20.2" height="30.6"/>
<rect class="f" x="556.7" y="179.4" width="20.2" height="30.4"/>
<rect class="f" x="565.4" y="117.6" width="14.3" height="23.7"/>
<rect class="f" x="565.4" y="212.3" width="14.3" height="24.0"/>
<rect class="x" x="556.7" y="143.6" width="20.2" height="30.6"/>
<rect class="x" x="556.7" y="179.4" width="20.2" height="30.4"/>
<path class="cv" d="M550.3 141.3H494V212.3H550.3L558.6 203.3V150.3Z"/>
<path class="bg" d="M548.8 142.60000000000002H495.3V211.0H548.8"/>
<path class="b" d="M579.7 141.3H494V212.3H579.7"/>
<path class="x" d="M558.6 150.3V203.3"/>
<path class="f" d="M550.3 141.3L558.6 150.3H550.3ZM550.3 212.3L558.6 203.3H550.3Z"/>
<path class="d" d="M453 279.6L477.5 255.2A34.8 34.8 0 0 1 488 279.3"/>
<path class="w" d="M579.7 98.5L579.7 105.8"/>
<path class="w" d="M579.7 285.1L579.7 454.4"/>
<path class="w" d="M268.4 327.8H331.3V334.2H275.6V454.4H396.1V334.2H363.8V327.8H449.8V334.2H401.9V454.4H487.7V334.2H484.1V327.8H496.6V334.2H493.6V454.4H579.7"/>
<path class="w" d="M268.4 327.8V337.9H275.6V334.2M275.6 409.2H268.4V454.4H128.2"/>
<path class="jl" d="M269.4 327.8L269.4 334.2"/>
<path class="jl" d="M330.3 327.8L330.3 334.2"/>
<path class="jl" d="M364.8 327.8L364.8 334.2"/>
<path class="jl" d="M448.8 327.8L448.8 334.2"/>
<path class="jl" d="M485.1 327.8L485.1 334.2"/>
<path class="jl" d="M495.6 327.8L495.6 334.2"/>
<path class="jl" d="M395.4 326.6L402 326.6"/>
<rect class="x" x="280.2" y="335.9" width="38.5" height="72.5"/>
<path class="x" d="M283.1 350.8A15 12.4 0 0 1 298.1 338.4H300.5A15 12.4 0 0 1 315.5 350.8V399.3A6.5 6.5 0 0 1 309 405.8H289.6A6.5 6.5 0 0 1 283.1 399.3Z"/>
<ellipse class="x" cx="299.6" cy="396.2" rx="1" ry="1"/>
<path class="k2" d="M299.6 401.3L299.6 408"/>
<path class="g" d="M325.6 334.2L325.6 454.4"/>
<path class="x" d="M275.6 411.3L325.6 411.3"/>
<rect class="x" x="278" y="413.6" width="45.9" height="39.0" rx="4"/>
<path class="x" d="M284 418.7L284 441.1"/>
<ellipse class="x" cx="284" cy="446.3" rx="1.1" ry="1.1"/>
<path class="x" d="M288.9 442.5L319.1 418.7"/>
<path class="x" d="M290 446.3L319 446.3"/>
<path class="d" d="M331.3 334.2L354.2 356.4A31.9 31.9 0 0 0 363.6 334.2"/>
<path class="x" d="M396.1 419.9H367.5V334.2"/>
<path class="x" d="M367.5 377L396.1 377"/>
<ellipse class="k" cx="381.8" cy="355.5" rx="8.7" ry="13.55"/>
<path class="k2" d="M382.2 355.5L390.3 355.5"/>
<rect class="kf" x="389.8" y="354.3" width="4.0" height="2.4" rx="1.2"/>
<ellipse class="k" cx="381.8" cy="398.5" rx="8.7" ry="13.55"/>
<path class="k2" d="M382.2 398.5L390.3 398.5"/>
<rect class="kf" x="389.8" y="397.3" width="4.0" height="2.4" rx="1.2"/>
<path class="pd" d="M396.9 349.9L396.9 361.1"/>
<path class="pd" d="M400.9 349.9L400.9 361.1"/>
<path class="pd" d="M396.9 392.9L396.9 404.1"/>
<path class="x" d="M386.6 429.1H372.3A8.6 8.6 0 0 0 372.3 446.3H386.6"/>
<rect class="x" x="386.6" y="429.1" width="9.5" height="17.2"/>
<path class="x" d="M383.9 432H372.8A5.8 5.8 0 0 0 372.8 443.6H383.9Z"/>
<path class="x" d="M401.9 377H430.8V334.2"/>
<ellipse class="k" cx="416.2" cy="355.5" rx="8.7" ry="13.55"/>
<path class="k2" d="M415.8 355.5L407.7 355.5"/>
<rect class="kf" x="404.2" y="354.3" width="4.0" height="2.4" rx="1.2"/>
<rect class="x" x="401.9" y="386.1" width="9.9" height="17.2"/>
<path class="x" d="M411.8 386.1H426.2A8.6 8.6 0 0 1 426.2 403.3H411.8"/>
<path class="x" d="M414.6 388.6H426.6A6.1 6.1 0 0 1 426.6 400.8H414.6Z"/>
<path class="x" d="M409.2 454.4V416.6H480.3V454.4"/>
<path class="x" d="M416.8 419.2H466.4A12.4 15 0 0 1 478.8 434.2V436.8A12.4 15 0 0 1 466.4 451.8H416.8A5.5 5.5 0 0 1 411.3 446.3V424.7A5.5 5.5 0 0 1 416.8 419.2Z"/>
<ellipse class="x" cx="420.4" cy="435.5" rx="1" ry="1"/>
<path class="k2" d="M410 435.5L416.4 435.5"/>
<path class="d" d="M484 334.2L460.4 356.6A32.6 32.6 0 0 1 450 334.2"/>
<path class="d" d="M496.3 328.2L518 307.2A30.6 30.6 0 0 1 527 328.2"/>
<path class="w" d="M493.6 357.8H530.7V334H526.8V327.8H536.6V364H493.6"/>
<path class="jl" d="M527.8 327.8L527.8 334"/>
<path class="da" d="M494.2 328.5L530.6 328.5"/>
<path class="da" d="M494.2 340.3L530.6 340.3"/>
<path class="da" d="M494.2 352.1L530.6 352.1"/>
<path class="st" d="M536.6 328.5L579.7 328.5"/>
<path class="st" d="M530.7 340.3L579.7 340.3"/>
<path class="st" d="M530.7 352.1L579.7 352.1"/>
<path class="st" d="M493.6 375.9L579.7 375.9"/>
<path class="st" d="M493.6 387.7L579.7 387.7"/>
<path class="st" d="M493.6 399.7L579.7 399.7"/>
<path class="st" d="M493.6 411.7L579.7 411.7"/>
<path class="st" d="M536.6 364L579.7 364"/>
<path class="st" d="M536.6 364L536.6 411.7"/>
<path class="wh" d="M338.40000000000003 105.8L422.8 105.8"/>
<path class="t" d="M337.6 105.4L423.6 105.4"/>
<path class="t" d="M337.6 98.5L423.6 98.5"/>
<path class="g" d="M337.6 100.6L423.6 100.6"/>
<path class="w" d="M337.6 98.5L337.6 105.8"/>
<path class="w" d="M423.6 98.5L423.6 105.8"/>
<path class="t" d="M380.6 99L380.6 101.6"/>
<path class="wh" d="M477.1 105.8L561.2 105.8"/>
<path class="t" d="M476.3 105.4L562 105.4"/>
<path class="t" d="M476.3 98.5L562 98.5"/>
<path class="g" d="M476.3 100.6L562 100.6"/>
<path class="w" d="M476.3 98.5L476.3 105.8"/>
<path class="w" d="M562 98.5L562 105.8"/>
<path class="t" d="M519.15 99L519.15 101.6"/>
<path class="wh" d="M149.3 170.3L149.3 311.2"/>
<path class="t" d="M149.4 169.4L149.4 312.1"/>
<path class="t" d="M142.5 169.4L142.5 312.1"/>
<path class="t" d="M144.6 169.4L144.6 312.1"/>
<path class="t" d="M142.5 203.0L144.6 203.0"/>
<path class="t" d="M142.5 205.39999999999998L144.6 205.39999999999998"/>
<path class="t" d="M142.5 240.10000000000002L144.6 240.10000000000002"/>
<path class="t" d="M142.5 242.5L144.6 242.5"/>
<path class="t" d="M142.5 275.40000000000003L144.6 275.40000000000003"/>
<path class="t" d="M142.5 277.8L144.6 277.8"/>
<path class="wh" d="M275.6 339L275.6 408.4"/>
<path class="t" d="M275.5 337.9L275.5 409.2"/>
<path class="t" d="M268.8 337.9L268.8 409.2"/>
<path class="t" d="M270.8 337.9L270.8 409.2"/>
<path class="t" d="M268.5 372.6L270.5 372.6"/>
<path class="t" d="M268.5 375L270.5 375"/>
</g>
<path class="dash" stroke-dashoffset="1.207" d="M61.6 98.5H1101.4"/>
<path class="dash" d="M62.6 98.4V820.8"/>
<path class="dash" stroke-dashoffset="1.207" d="M61.6 819.8H1101.4"/>
<path class="g" d="M99.5 98.5V459.4H197.3"/>
<path class="g" d="M1068.95 98.5V459.4H971.1000000000001"/>
<path class="g" d="M128.5 464V819.9"/>
<path class="g" d="M1040.4 464V819.9"/>
<path class="w" d="M128.2 454.4V464.1"/>
<path class="w" d="M1040.2 454.4V464.1"/>
<g filter="url(#nf)">
<text class="ti" font-size="49" transform="translate(0,63.6) scale(0.7,1)" x="86.4 121.4 155.7 187.7 221.7 257.4" y="0">SECOND</text>
<text class="ti" font-size="49" transform="translate(0,63.6) scale(0.7,1)" x="302.6 334.0 361.0 396.7 431.1" y="0">FLOOR</text>
<text class="lb" x="365.6" y="170.8" font-size="16.13" textLength="62" lengthAdjust="spacingAndGlyphs" text-anchor="middle">BEDROOM</text>
<text class="sm" x="365.9" y="183.8" font-size="10.47" textLength="29.3" lengthAdjust="spacingAndGlyphs" text-anchor="middle">9'-2&quot; X</text>
<text class="sm" x="365.9" y="195.6" font-size="10.47" textLength="21.5" lengthAdjust="spacingAndGlyphs" text-anchor="middle">9'-9&quot;</text>
<text class="lb" x="365.6" y="728.8" font-size="16.13" textLength="62" lengthAdjust="spacingAndGlyphs" text-anchor="middle">BEDROOM</text>
<text class="sm" x="365.9" y="741.8" font-size="10.47" textLength="29.3" lengthAdjust="spacingAndGlyphs" text-anchor="middle">9'-2&quot; X</text>
<text class="sm" x="365.9" y="753.6" font-size="10.47" textLength="21.5" lengthAdjust="spacingAndGlyphs" text-anchor="middle">9'-9&quot;</text>
<text class="lb" x="526.1" y="170.8" font-size="16.13" textLength="62" lengthAdjust="spacingAndGlyphs" text-anchor="middle">BEDROOM</text>
<text class="sm" x="526.4" y="183.8" font-size="10.47" textLength="29.3" lengthAdjust="spacingAndGlyphs" text-anchor="middle">9'-1&quot; X</text>
<text class="sm" x="526.4" y="195.6" font-size="10.47" textLength="21.5" lengthAdjust="spacingAndGlyphs" text-anchor="middle">9'-9&quot;</text>
<text class="lb" x="526.1" y="728.8" font-size="16.13" textLength="62" lengthAdjust="spacingAndGlyphs" text-anchor="middle">BEDROOM</text>
<text class="sm" x="526.4" y="741.8" font-size="10.47" textLength="29.3" lengthAdjust="spacingAndGlyphs" text-anchor="middle">9'-1&quot; X</text>
<text class="sm" x="526.4" y="753.6" font-size="10.47" textLength="21.5" lengthAdjust="spacingAndGlyphs" text-anchor="middle">9'-9&quot;</text>
<text class="lb" x="642.3" y="170.8" font-size="16.13" textLength="62" lengthAdjust="spacingAndGlyphs" text-anchor="middle">BEDROOM</text>
<text class="sm" x="642.6" y="183.8" font-size="10.47" textLength="29.3" lengthAdjust="spacingAndGlyphs" text-anchor="middle">9'-1&quot; X</text>
<text class="sm" x="642.6" y="195.6" font-size="10.47" textLength="21.5" lengthAdjust="spacingAndGlyphs" text-anchor="middle">9'-9&quot;</text>
<text class="lb" x="642.3" y="728.8" font-size="16.13" textLength="62" lengthAdjust="spacingAndGlyphs" text-anchor="middle">BEDROOM</text>
<text class="sm" x="642.6" y="741.8" font-size="10.47" textLength="29.3" lengthAdjust="spacingAndGlyphs" text-anchor="middle">9'-1&quot; X</text>
<text class="sm" x="642.6" y="753.6" font-size="10.47" textLength="21.5" lengthAdjust="spacingAndGlyphs" text-anchor="middle">9'-9&quot;</text>
<text class="lb" x="802.8" y="170.8" font-size="16.13" textLength="62" lengthAdjust="spacingAndGlyphs" text-anchor="middle">BEDROOM</text>
<text class="sm" x="803.1" y="183.8" font-size="10.47" textLength="29.3" lengthAdjust="spacingAndGlyphs" text-anchor="middle">9'-2&quot; X</text>
<text class="sm" x="803.1" y="195.6" font-size="10.47" textLength="21.5" lengthAdjust="spacingAndGlyphs" text-anchor="middle">9'-9&quot;</text>
<text class="lb" x="802.8" y="728.8" font-size="16.13" textLength="62" lengthAdjust="spacingAndGlyphs" text-anchor="middle">BEDROOM</text>
<text class="sm" x="803.1" y="741.8" font-size="10.47" textLength="29.3" lengthAdjust="spacingAndGlyphs" text-anchor="middle">9'-2&quot; X</text>
<text class="sm" x="803.1" y="753.6" font-size="10.47" textLength="21.5" lengthAdjust="spacingAndGlyphs" text-anchor="middle">9'-9&quot;</text>
<text class="lb" x="186.9" y="215.8" font-size="16.28" textLength="52.5" lengthAdjust="spacingAndGlyphs" text-anchor="middle">MASTER</text>
<text class="lb" x="186.9" y="232" font-size="16.28" textLength="23" lengthAdjust="spacingAndGlyphs" text-anchor="middle">B/R</text>
<text class="sm" x="187.2" y="245.8" font-size="11.19" textLength="22" lengthAdjust="spacingAndGlyphs" text-anchor="middle">11' X</text>
<text class="sm" x="186.9" y="256.6" font-size="11.19" textLength="28.5" lengthAdjust="spacingAndGlyphs" text-anchor="middle">11'-7&quot;</text>
<text class="lb" x="186.9" y="667.1" font-size="16.28" textLength="52.5" lengthAdjust="spacingAndGlyphs" text-anchor="middle">MASTER</text>
<text class="lb" x="186.9" y="683.3" font-size="16.28" textLength="23" lengthAdjust="spacingAndGlyphs" text-anchor="middle">B/R</text>
<text class="sm" x="187.2" y="697.1" font-size="11.19" textLength="22" lengthAdjust="spacingAndGlyphs" text-anchor="middle">11' X</text>
<text class="sm" x="186.9" y="707.9" font-size="11.19" textLength="28.5" lengthAdjust="spacingAndGlyphs" text-anchor="middle">11'-7&quot;</text>
<text class="lb" x="981.5" y="215.8" font-size="16.28" textLength="52.5" lengthAdjust="spacingAndGlyphs" text-anchor="middle">MASTER</text>
<text class="lb" x="981.5" y="232" font-size="16.28" textLength="23" lengthAdjust="spacingAndGlyphs" text-anchor="middle">B/R</text>
<text class="sm" x="981.8" y="245.8" font-size="11.19" textLength="22" lengthAdjust="spacingAndGlyphs" text-anchor="middle">11' X</text>
<text class="sm" x="981.5" y="256.6" font-size="11.19" textLength="28.5" lengthAdjust="spacingAndGlyphs" text-anchor="middle">11'-7&quot;</text>
<text class="lb" x="981.5" y="667.1" font-size="16.28" textLength="52.5" lengthAdjust="spacingAndGlyphs" text-anchor="middle">MASTER</text>
<text class="lb" x="981.5" y="683.3" font-size="16.28" textLength="23" lengthAdjust="spacingAndGlyphs" text-anchor="middle">B/R</text>
<text class="sm" x="981.8" y="697.1" font-size="11.19" textLength="22" lengthAdjust="spacingAndGlyphs" text-anchor="middle">11' X</text>
<text class="sm" x="981.5" y="707.9" font-size="11.19" textLength="28.5" lengthAdjust="spacingAndGlyphs" text-anchor="middle">11'-7&quot;</text>
<text class="lb" x="199.3" y="395" font-size="16.42" textLength="56.2" lengthAdjust="spacingAndGlyphs" text-anchor="middle">BALCONY</text>
<text class="lb" x="199.3" y="526.8" font-size="16.42" textLength="56.2" lengthAdjust="spacingAndGlyphs" text-anchor="middle">BALCONY</text>
<text class="lb" x="969.1" y="395" font-size="16.42" textLength="56.2" lengthAdjust="spacingAndGlyphs" text-anchor="middle">BALCONY</text>
<text class="lb" x="969.1" y="526.8" font-size="16.42" textLength="56.2" lengthAdjust="spacingAndGlyphs" text-anchor="middle">BALCONY</text>
<text class="lb" x="346.3" y="377.9" font-size="16.42" textLength="51" lengthAdjust="spacingAndGlyphs" text-anchor="middle">ENSUITE</text>
<text class="si" x="346.3" y="391.7" font-size="10.47" textLength="27.5" lengthAdjust="spacingAndGlyphs" text-anchor="middle">8'-5&quot;X</text>
<text class="si" x="346.3" y="402.9" font-size="10.32" textLength="22.5" lengthAdjust="spacingAndGlyphs" text-anchor="middle">8'-5&quot;</text>
<text class="lb" x="346.3" y="520.8" font-size="16.42" textLength="51" lengthAdjust="spacingAndGlyphs" text-anchor="middle">ENSUITE</text>
<text class="si" x="346.3" y="534.6" font-size="10.47" textLength="27.5" lengthAdjust="spacingAndGlyphs" text-anchor="middle">8'-5&quot;X</text>
<text class="si" x="346.3" y="545.8" font-size="10.32" textLength="22.5" lengthAdjust="spacingAndGlyphs" text-anchor="middle">8'-5&quot;</text>
<text class="lb" x="822.1" y="377.9" font-size="16.42" textLength="51" lengthAdjust="spacingAndGlyphs" text-anchor="middle">ENSUITE</text>
<text class="si" x="822.1" y="391.7" font-size="10.47" textLength="27.5" lengthAdjust="spacingAndGlyphs" text-anchor="middle">8'-5&quot;X</text>
<text class="si" x="822.1" y="402.9" font-size="10.32" textLength="22.5" lengthAdjust="spacingAndGlyphs" text-anchor="middle">8'-5&quot;</text>
<text class="lb" x="822.1" y="520.8" font-size="16.42" textLength="51" lengthAdjust="spacingAndGlyphs" text-anchor="middle">ENSUITE</text>
<text class="si" x="822.1" y="534.6" font-size="10.47" textLength="27.5" lengthAdjust="spacingAndGlyphs" text-anchor="middle">8'-5&quot;X</text>
<text class="si" x="822.1" y="545.8" font-size="10.32" textLength="22.5" lengthAdjust="spacingAndGlyphs" text-anchor="middle">8'-5&quot;</text>
<text class="si" x="467.5" y="378.8" font-size="10.47" textLength="13.5" lengthAdjust="spacingAndGlyphs" text-anchor="middle">6'X</text>
<text class="si" x="467.8" y="394.9" font-size="11.34" textLength="22.5" lengthAdjust="spacingAndGlyphs" text-anchor="middle">8'-5&quot;</text>
<text class="si" x="467.5" y="526.4" font-size="10.47" textLength="13.5" lengthAdjust="spacingAndGlyphs" text-anchor="middle">6'X</text>
<text class="si" x="467.8" y="542.5" font-size="11.34" textLength="22.5" lengthAdjust="spacingAndGlyphs" text-anchor="middle">8'-5&quot;</text>
<text class="si" x="700.9" y="378.8" font-size="10.47" textLength="13.5" lengthAdjust="spacingAndGlyphs" text-anchor="middle">6'X</text>
<text class="si" x="701.2" y="394.9" font-size="11.34" textLength="22.5" lengthAdjust="spacingAndGlyphs" text-anchor="middle">8'-5&quot;</text>
<text class="si" x="700.9" y="526.4" font-size="10.47" textLength="13.5" lengthAdjust="spacingAndGlyphs" text-anchor="middle">6'X</text>
<text class="si" x="701.2" y="542.5" font-size="11.34" textLength="22.5" lengthAdjust="spacingAndGlyphs" text-anchor="middle">8'-5&quot;</text>
<text class="sm" x="514.7" y="346.1" font-size="11.34" textLength="12" lengthAdjust="spacingAndGlyphs" text-anchor="middle">AC</text>
<text class="sm" x="514.7" y="576.0" font-size="11.34" textLength="12" lengthAdjust="spacingAndGlyphs" text-anchor="middle">AC</text>
<text class="sm" x="653.7" y="346.1" font-size="11.34" textLength="12" lengthAdjust="spacingAndGlyphs" text-anchor="middle">AC</text>
<text class="sm" x="653.7" y="576.0" font-size="11.34" textLength="12" lengthAdjust="spacingAndGlyphs" text-anchor="middle">AC</text>
<text class="sm" x="557.7" y="315.8" font-size="11.19" textLength="12" lengthAdjust="spacingAndGlyphs" text-anchor="middle">DN</text>
<text class="sm" x="557.7" y="605.9" font-size="11.19" textLength="12" lengthAdjust="spacingAndGlyphs" text-anchor="middle">DN</text>
<text class="sm" x="610.7" y="315.8" font-size="11.19" textLength="12" lengthAdjust="spacingAndGlyphs" text-anchor="middle">DN</text>
<text class="sm" x="610.7" y="605.9" font-size="11.19" textLength="12" lengthAdjust="spacingAndGlyphs" text-anchor="middle">DN</text>
</g>
</svg>
</body>
</html>
